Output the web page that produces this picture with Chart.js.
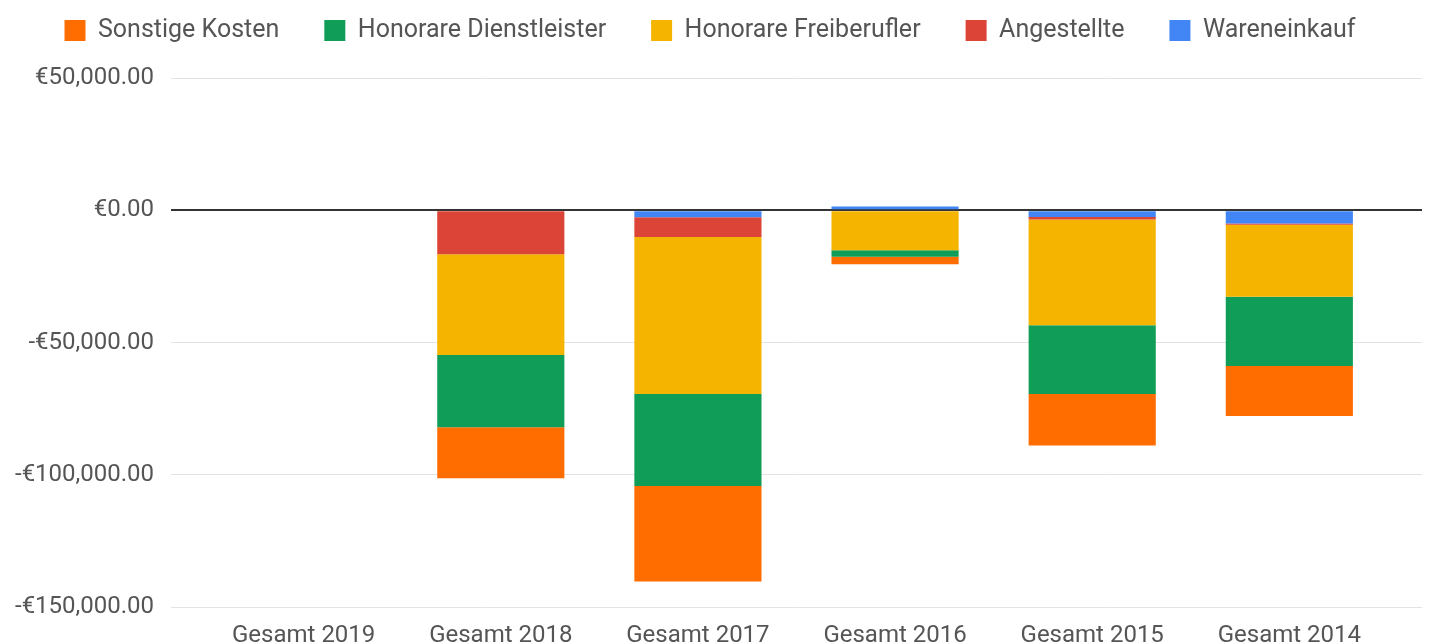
<!DOCTYPE html>
<html>
<head>
<meta charset="utf-8">
<script src="https://cdn.jsdelivr.net/npm/chart.js@4"></script>
<style>
  html, body { margin: 0; padding: 0; background: #fff; }
  #wrap { width: 1447px; height: 644px; }
</style>
</head>
<body>
<div id="wrap"><canvas id="chart"></canvas></div>
<script>
// categories (years, newest first) and the cost groups per year, in euro
const categories = ['Gesamt 2019', 'Gesamt 2018', 'Gesamt 2017', 'Gesamt 2016', 'Gesamt 2015', 'Gesamt 2014'];

const wareneinkauf = [0, 0, -2650, 1400, -2500, -5000];
const angestellte = [0, -16600, -7400, 0, -1000, -500];
const freiberufler = [0, -38100, -59400, -15100, -39900, -27200];
const dienstleister = [0, -27300, -34700, -2500, -26000, -26150];
const sonstige = [0, -19300, -36100, -2750, -19500, -18900];

const yTicks = [50000, 0, -50000, -100000, -150000];

const colors = {
    ware: '#4285F4',
    ang: '#DB4437',
    frei: '#F4B400',
    dienst: '#0F9D58',
    sonst: '#FF6D00'
};

function points(arr) {
    return arr.map((v, i) => ({ x: i, y: v }));
}

function euro(v) {
    const s = Math.abs(v).toLocaleString('en-US', { minimumFractionDigits: 2, maximumFractionDigits: 2 });
    return (v < 0 ? '-' : '') + '\u20AC' + s;
}

const font = { family: 'Roboto', size: 24 };

// first dataset sits next to the zero line
const datasets = [
    { label: 'Wareneinkauf', data: points(wareneinkauf), backgroundColor: colors.ware },
    { label: 'Angestellte', data: points(angestellte), backgroundColor: colors.ang },
    { label: 'Honorare Freiberufler', data: points(freiberufler), backgroundColor: colors.frei },
    { label: 'Honorare Dienstleister', data: points(dienstleister), backgroundColor: colors.dienst },
    { label: 'Sonstige Kosten', data: points(sonstige), backgroundColor: colors.sonst }
];

// extra room under the legend
const legendGap = {
    id: 'legendGap',
    beforeInit(chart) {
        const fit = chart.legend.fit;
        chart.legend.fit = function () {
            fit.bind(chart.legend)();
            this.height += 25;
        };
    }
};

new Chart(document.getElementById('chart'), {
    type: 'bar',
    data: { datasets },
    plugins: [legendGap],
    options: {
        responsive: true,
        maintainAspectRatio: false,
        animation: false,
        layout: { padding: { left: -2, right: 25, top: -27, bottom: -12 } },
        datasets: { bar: { barPercentage: 0.645, categoryPercentage: 1 } },
        plugins: {
            legend: {
                position: 'top',
                reverse: true,
                labels: {
                    font: { family: 'Roboto', size: 25 },
                    color: '#555',
                    boxWidth: 21,
                    boxHeight: 21,
                    padding: 45
                }
            },
            tooltip: { enabled: false }
        },
        scales: {
            x: {
                type: 'linear',
                stacked: true,
                offset: false,
                min: -0.6726,
                max: 5.673,
                afterBuildTicks: axis => { axis.ticks = categories.map((c, i) => ({ value: i })); },
                ticks: {
                    font: font,
                    color: '#555',
                    padding: 6,
                    maxRotation: 0,
                    autoSkip: false,
                    callback: v => categories[v]
                },
                grid: { display: false },
                border: { display: false }
            },
            y: {
                stacked: true,
                min: -150000,
                max: 50000,
                afterBuildTicks: axis => { axis.ticks = yTicks.map(v => ({ value: v })); },
                ticks: {
                    font: font,
                    color: '#555',
                    padding: 17,
                    callback: v => euro(v)
                },
                grid: {
                    color: c => (c.tick && c.tick.value === 0) ? '#333' : '#e3e3e3',
                    lineWidth: c => (c.tick && c.tick.value === 0) ? 2 : 1,
                    drawTicks: false
                },
                border: { display: false }
            }
        }
    }
});
</script>
</body>
</html>
